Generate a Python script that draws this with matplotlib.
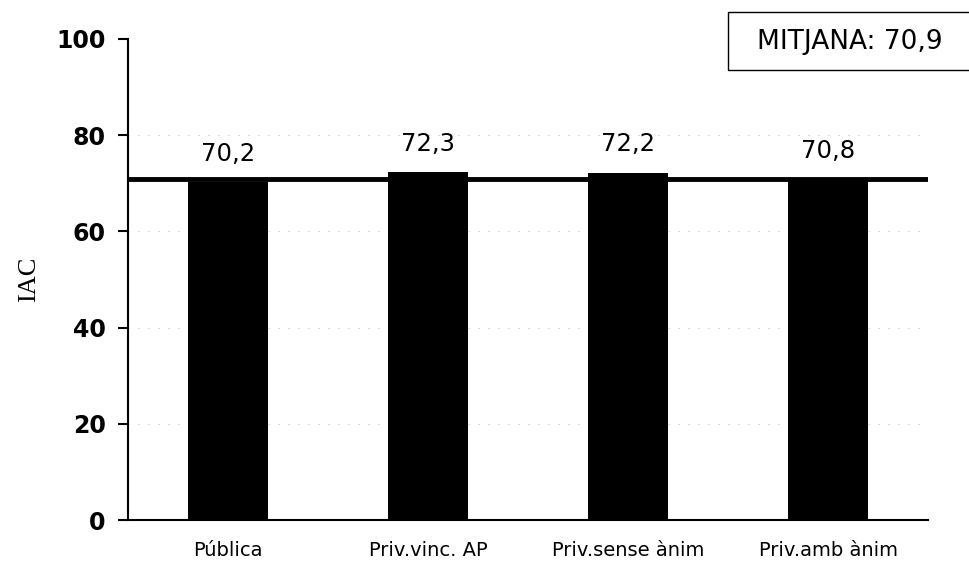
import matplotlib

matplotlib.use("Agg")
import matplotlib.pyplot as plt
from matplotlib.patches import Rectangle

categories = ["Pública", "Priv.vinc. AP", "Priv.sense ànim", "Priv.amb ànim"]
values = [70.2, 72.3, 72.2, 70.8]
mean_value = 70.9
y_ticks = [0, 20, 40, 60, 80, 100]


def fmt(v: float) -> str:
    return f"{v:.1f}".replace(".", ",")


fig = plt.figure(figsize=(9.69, 5.71), dpi=100)
ax = fig.add_axes([0.132, 0.089, 0.826, 0.843])

x = list(range(len(categories)))
ax.bar(x, values, width=0.4, color="black", zorder=2)
ax.axhline(mean_value, color="black", linewidth=3.5, zorder=3)

for xi, v in zip(x, values):
    ax.text(xi, v + 3.4, fmt(v), ha="center", va="bottom", fontsize=17.5)

ax.set_xlim(-0.5, len(categories) - 0.5)
ax.set_ylim(0, 100)
ax.set_yticks(y_ticks)
ax.set_yticklabels([str(t) for t in y_ticks], fontsize=17, fontweight="bold")
ax.set_xticks(x)
ax.set_xticklabels(categories, fontsize=14)
ax.tick_params(axis="x", length=0, pad=15)
ax.tick_params(axis="y", direction="out", length=7, width=1.5, pad=9)
ax.set_ylabel("IAC", fontsize=19, family="Liberation Serif", labelpad=12)

for t in y_ticks[1:-1]:
    ax.axhline(t, color="#bbbbbb", linewidth=0.8, linestyle=(0, (1, 8)), zorder=1)

ax.spines["top"].set_visible(False)
ax.spines["right"].set_visible(False)
ax.spines["left"].set_linewidth(1.5)
ax.spines["bottom"].set_linewidth(1.5)

# box with the mean, partly cut by the right edge
box = Rectangle((728 / 969, 1 - 70 / 571), 260 / 969, 58 / 571, transform=fig.transFigure,
                facecolor="white", edgecolor="black", linewidth=1.0, zorder=5)
fig.patches.append(box)
fig.text(757 / 969, 1 - 42 / 571, f"MITJANA: {fmt(mean_value)}", ha="left", va="center",
         fontsize=19, zorder=6)

fig.savefig("out.png", dpi=100)
